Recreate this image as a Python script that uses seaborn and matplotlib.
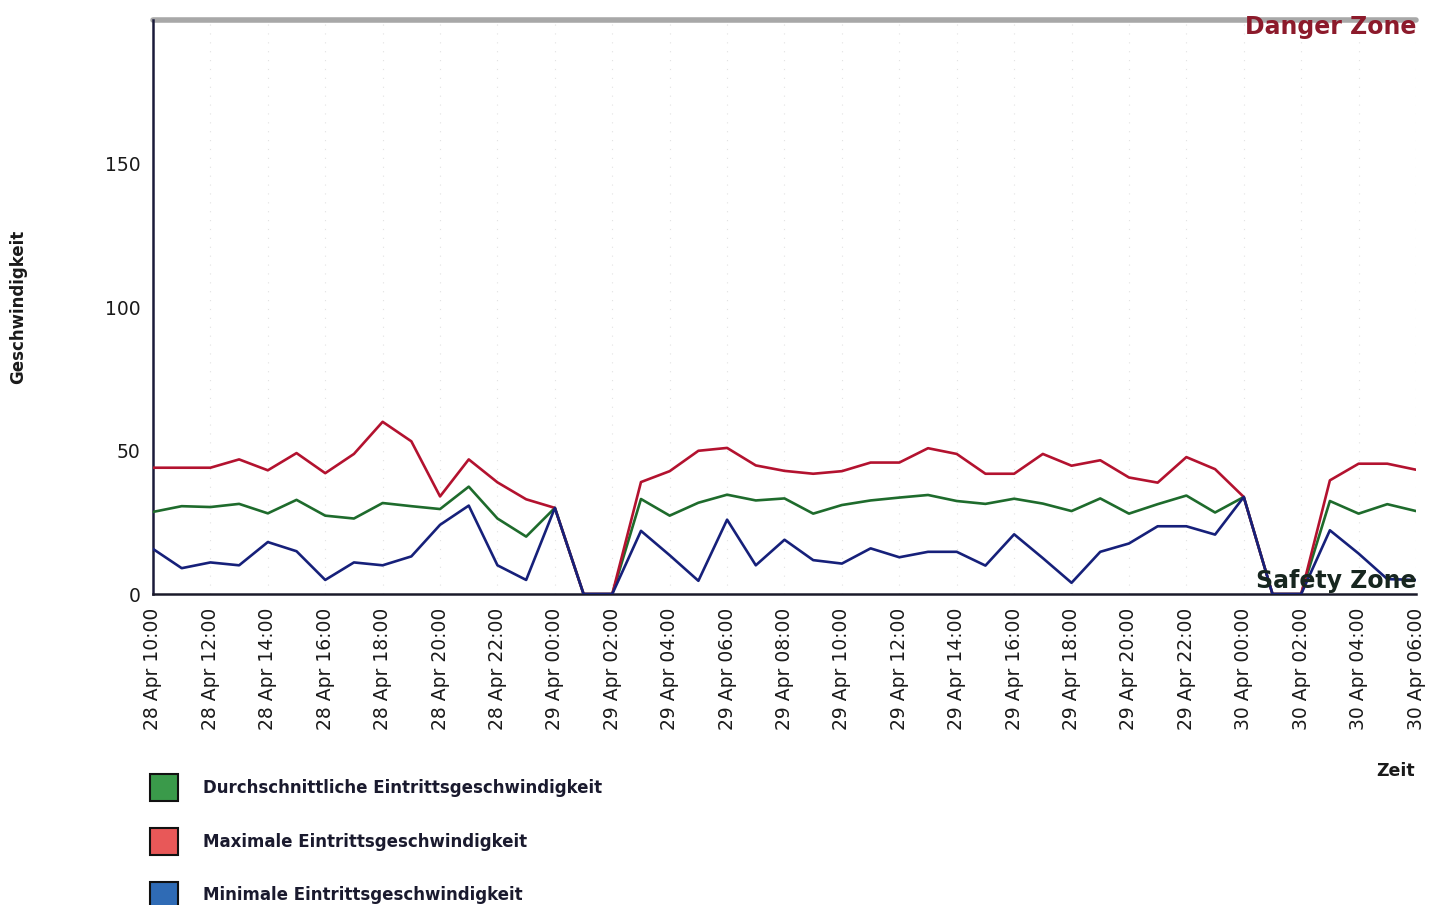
import numpy as np
import pandas as pd
import matplotlib
matplotlib.use('Agg')
import matplotlib.pyplot as plt
import matplotlib.dates as mdates
from matplotlib.patches import Rectangle
import seaborn as sns


# ---------------------------------------------------------------------------
# Data (hourly, 28 Apr 10:00 -> 30 Apr 06:00)
# ---------------------------------------------------------------------------

START = '2024-04-28 10:00'
N_HOURS = 45

avg_speed = [28.6, 30.6, 30.3, 31.4, 28.1, 32.8, 27.3, 26.3, 31.7, 30.6, 29.6, 37.4,
             26.3, 20.0, 30.0, 0, 0, 33.1, 27.3, 31.8, 34.6, 32.6, 33.3, 28.0, 31.0,
             32.6, 33.6, 34.5, 32.4, 31.4, 33.2, 31.5, 28.9, 33.3, 28.0, 31.3, 34.3,
             28.4, 33.8, 0, 0, 32.4, 28.0, 31.3, 28.9]
max_speed = [44.0, 44.0, 44.0, 46.9, 43.1, 49.1, 42.1, 48.8, 60.0, 53.2, 34.0, 46.9,
             38.9, 33.0, 30.0, 0, 0, 39.0, 42.8, 49.9, 50.9, 44.8, 42.9, 41.9, 42.8,
             45.8, 45.8, 50.8, 48.8, 41.9, 41.9, 48.8, 44.7, 46.6, 40.6, 38.8, 47.7,
             43.5, 33.8, 0, 0, 39.6, 45.4, 45.4, 43.3]
min_speed = [15.7, 9.0, 11.0, 10.0, 18.1, 14.9, 4.9, 11.0, 10.0, 13.1, 24.1, 30.8,
             10.0, 4.9, 30.0, 0, 0, 22.0, 13.5, 4.6, 25.9, 10.0, 18.9, 11.8, 10.6,
             15.9, 12.8, 14.7, 14.7, 9.9, 20.8, 12.5, 3.9, 14.7, 17.6, 23.6, 23.6,
             20.7, 33.8, 0, 0, 22.2, 14.1, 5.2, 4.9]

SERIES = ['Durchschnittliche Eintrittsgeschwindigkeit',
          'Maximale Eintrittsgeschwindigkeit',
          'Minimale Eintrittsgeschwindigkeit']
LINE_COLORS = ['#1e6b2c', '#b3122f', '#16207a']
PATCH_COLORS = ['#3a9a4a', '#e85858', '#2f6bb5']

DANGER_LEVEL = 200
SAFETY_LEVEL = 0

times = pd.date_range(START, periods=N_HOURS, freq='h')
df = pd.DataFrame({'Zeit': np.tile(times, 3),
                   'Geschwindigkeit': avg_speed + max_speed + min_speed,
                   'Serie': np.repeat(SERIES, N_HOURS)})

# ---------------------------------------------------------------------------
# Plot
# ---------------------------------------------------------------------------

sns.set_style('white')
plt.rcParams['font.family'] = ['DejaVu Sans']

fig = plt.figure(figsize=(14.29, 9.05), dpi=100)
ax = fig.add_axes([153 / 1429, 1 - 594 / 905, (1416 - 153) / 1429, (594 - 20) / 905])

ax.grid(axis='x', color='#e2e2e2', linestyle=(0, (1, 7)), linewidth=0.8)
ax.axhline(DANGER_LEVEL, color='#a8a8a8', linewidth=4, clip_on=False, zorder=1)

sns.lineplot(data=df, x='Zeit', y='Geschwindigkeit', hue='Serie',
             palette=dict(zip(SERIES, LINE_COLORS)), linewidth=1.9,
             legend=False, ax=ax, zorder=3)

ax.set_xlim(times[0], times[-1])
ax.set_ylim(0, DANGER_LEVEL)
ax.set_yticks([0, 50, 100, 150])
ax.xaxis.set_major_locator(mdates.HourLocator(byhour=range(0, 24, 2)))
ax.xaxis.set_major_formatter(mdates.DateFormatter('%d %b %H:%M'))
ax.tick_params(axis='both', direction='out', length=7, width=1.6,
               color='#1a1a2a', labelsize=13.5, labelcolor='#1a1a1a')
ax.tick_params(axis='x', labelrotation=90, pad=3)
ax.tick_params(axis='y', pad=2)

for side in ['top', 'right']:
    ax.spines[side].set_visible(False)
ax.spines['left'].set_color('#1a1a3a')
ax.spines['bottom'].set_color('#1a1a2a')
ax.spines['left'].set_linewidth(1.8)
ax.spines['bottom'].set_linewidth(1.8)
ax.set_xlabel('')
ax.set_ylabel('')

# zone labels
ax.text(1.0, DANGER_LEVEL - 2.5, 'Danger Zone', transform=ax.get_yaxis_transform(),
        ha='right', va='center', fontsize=17, fontweight='bold', color='#8c1a2b', zorder=5)
ax.text(1.0, SAFETY_LEVEL + 0.5, 'Safety Zone', transform=ax.get_yaxis_transform(),
        ha='right', va='bottom', fontsize=17, fontweight='bold', color='#17261f', zorder=5)

# axis titles
fig.text(18 / 1429, 1 - 307 / 905, 'Geschwindigkeit', rotation=90, ha='center', va='center',
         fontsize=12, fontweight='bold', color='#1a1a1a')
fig.text(1415 / 1429, 1 - 771 / 905, 'Zeit', ha='right', va='center',
         fontsize=12.5, fontweight='bold', color='#1a1a1a')

# legend
handles = [Rectangle((0, 0), 1, 1, facecolor=c, edgecolor='#111111', linewidth=1.5)
           for c in PATCH_COLORS]
fig.legend(handles, SERIES, loc='upper left', bbox_to_anchor=(150 / 1429, 1 - 774 / 905),
           frameon=False, borderpad=0, borderaxespad=0, handlelength=1.65, handleheight=2.1,
           handletextpad=1.55, labelspacing=1.62,
           prop={'size': 12, 'weight': 'bold'}, labelcolor='#1a1a2e')

fig.savefig('out.png', dpi=100)
